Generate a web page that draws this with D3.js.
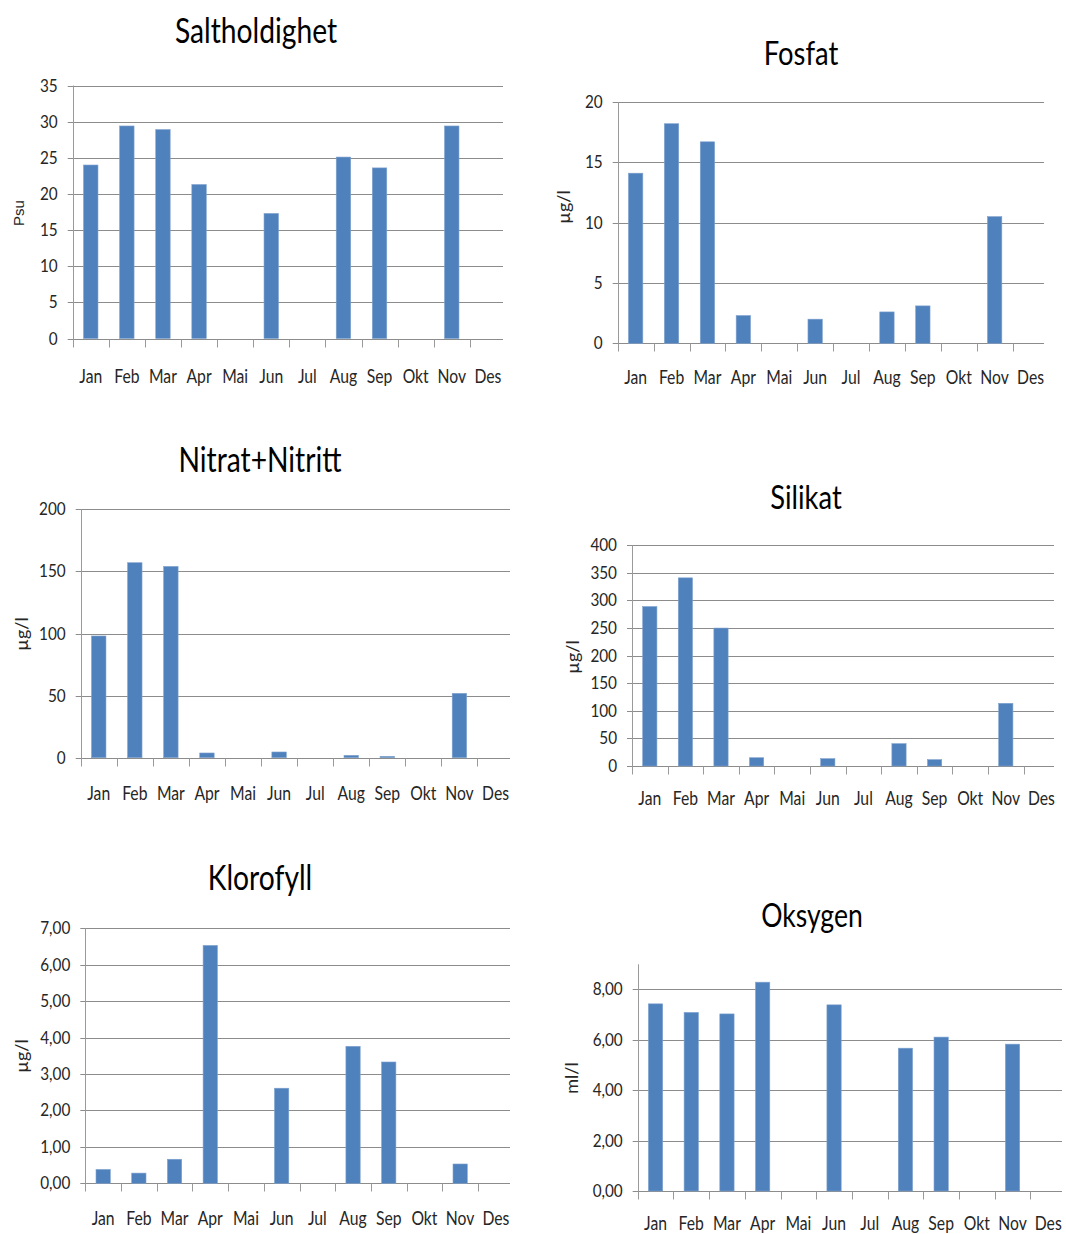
<!DOCTYPE html>
<html>
<head>
<meta charset="utf-8">
<script src="https://cdn.jsdelivr.net/npm/d3@7"></script>
<style>
  html, body { margin: 0; padding: 0; background: #ffffff; }
  svg { display: block; }
</style>
</head>
<body>
<svg id="chart" width="1066" height="1234"></svg>
<script>
// ---------------- DATA ----------------
const months = ["Jan", "Feb", "Mar", "Apr", "Mai", "Jun", "Jul", "Aug", "Sep", "Okt", "Nov", "Des"];

const saltholdighet = [24.0, 29.4, 28.9, 21.3, null, 17.3, null, 25.1, 23.6, null, 29.4, null];
const fosfat        = [14.1, 18.2, 16.7, 2.3, null, 2.0, null, 2.6, 3.1, null, 10.5, null];
const nitratNitritt = [98, 157, 154, 3.8, null, 4.6, null, 1.9, 1.1, null, 51.8, null];
const silikat       = [289, 341, 250, 15, null, 13.3, null, 40.5, 11.5, null, 113.6, null];
const klorofyll     = [0.38, 0.28, 0.66, 6.53, null, 2.61, null, 3.76, 3.33, null, 0.53, null];
const oksygen       = [7.43, 7.09, 7.03, 8.29, null, 7.39, null, 5.67, 6.11, null, 5.83, null];

const saltTicks    = [0, 5, 10, 15, 20, 25, 30, 35];
const fosfatTicks  = [0, 5, 10, 15, 20];
const nitratTicks  = [0, 50, 100, 150, 200];
const silikatTicks = [0, 50, 100, 150, 200, 250, 300, 350, 400];
const klorTicks    = [0, 1, 2, 3, 4, 5, 6, 7];
const oksTicks     = [0, 2, 4, 6, 8];

const titles = ["Saltholdighet", "Fosfat", "Nitrat+Nitritt", "Silikat", "Klorofyll", "Oksygen"];
const units  = ["Psu", "µg/l", "µg/l", "µg/l", "µg/l", "ml/l"];

// ---------------- LAYOUT ----------------
const fmtInt = d3.format("d");
const fmtComma = d => d3.format(".2f")(d).replace(".", ",");

const charts = [
  { title: titles[0], unit: units[0], values: saltholdighet, ticks: saltTicks, yMax: 35, fmt: fmtInt,
    x0: 72.7, bw: 36.1, gridEnd: 503, yTop: 85.5, yZero: 338.5,
    tX: 256, tY: 43, tSize: 34, uX: 19, uY: 213, unitFont: "Liberation Sans", unitSize: 15, labDy: 44 },
  { title: titles[1], unit: units[1], values: fosfat, ticks: fosfatTicks, yMax: 20, fmt: fmtInt,
    x0: 617.7, bw: 35.9, gridEnd: 1044, yTop: 102, yZero: 343.3,
    tX: 801, tY: 65, tSize: 33, uX: 564, uY: 207, labDy: 41 },
  { title: titles[2], unit: units[2], values: nitratNitritt, ticks: nitratTicks, yMax: 200, fmt: fmtInt,
    x0: 80.7, bw: 36.07, gridEnd: 510, yTop: 509.3, yZero: 757.7,
    tX: 260, tY: 472, tSize: 34, uX: 22, uY: 634, labDy: 42 },
  { title: titles[3], unit: units[3], values: silikat, ticks: silikatTicks, yMax: 400, fmt: fmtInt,
    x0: 632, bw: 35.6, gridEnd: 1054, yTop: 545.3, yZero: 766,
    tX: 806, tY: 509, tSize: 33, uX: 572.5, uY: 657, labDy: 39 },
  { title: titles[4], unit: units[4], values: klorofyll, ticks: klorTicks, yMax: 7, fmt: fmtComma,
    x0: 85.3, bw: 35.7, gridEnd: 510, yTop: 928.3, yZero: 1183.3,
    tX: 260, tY: 890, tSize: 34, uX: 22, uY: 1056, labDy: 42 },
  { title: titles[5], unit: units[5], values: oksygen, ticks: oksTicks, yMax: 9, fmt: fmtComma,
    x0: 637.7, bw: 35.7, gridEnd: 1062, yTop: 964.3, yZero: 1191,
    tX: 812, tY: 927, tSize: 32, uX: 572, uY: 1078, labDy: 39 }
];

const BAR = "#4F81BD";
const GRID = "#8C8C8C";
const AXIS = "#9A9A9A";
const TEXT = "#262626";
const FONT = "Lato, 'Open Sans', sans-serif";

const svg = d3.select("#chart");

function addText(g, x, y, s, o) {
  return g.append("text")
    .attr("transform", `translate(${x},${y}) scale(${o.sx || 1},1)`)
    .attr("text-anchor", o.anchor || "middle")
    .attr("font-family", o.family || FONT)
    .attr("font-size", o.size)
    .attr("fill", o.fill || TEXT)
    .text(s);
}

charts.forEach(c => {
  const g = svg.append("g");
  const x = d3.scaleBand().domain(months).range([c.x0, c.x0 + 12 * c.bw]).paddingInner(0).paddingOuter(0);
  const y = d3.scaleLinear().domain([0, c.yMax]).range([c.yZero, c.yTop]);

  // gridlines + y ticks
  g.selectAll("line.grid").data(c.ticks).enter().append("line")
    .attr("x1", c.x0 - 5).attr("x2", c.gridEnd)
    .attr("y1", d => Math.round(y(d)) + 0.5).attr("y2", d => Math.round(y(d)) + 0.5)
    .attr("stroke", GRID).attr("stroke-width", 1);

  // y axis line
  g.append("line")
    .attr("x1", Math.round(c.x0) + 0.5).attr("x2", Math.round(c.x0) + 0.5)
    .attr("y1", y(c.yMax)).attr("y2", Math.round(c.yZero) + 0.5)
    .attr("stroke", AXIS).attr("stroke-width", 1);

  // category tick marks (band boundaries)
  g.selectAll("line.ct").data(months).enter().append("line")
    .attr("x1", d => Math.round(x(d)) + 0.5).attr("x2", d => Math.round(x(d)) + 0.5)
    .attr("y1", Math.round(c.yZero) + 0.5).attr("y2", Math.round(c.yZero) + 8.5)
    .attr("stroke", AXIS).attr("stroke-width", 1);

  // bars
  const bw = x.bandwidth() * 0.4;
  g.selectAll("rect").data(c.values.map((v, i) => ({ m: months[i], v })).filter(d => d.v != null))
    .enter().append("rect")
    .attr("x", d => x(d.m) + (x.bandwidth() - bw) / 2)
    .attr("width", bw)
    .attr("y", d => y(d.v))
    .attr("height", d => c.yZero - y(d.v))
    .attr("fill", BAR)
    .attr("stroke", "#7FA2CE").attr("stroke-width", 0.6);

  // y tick labels
  c.ticks.forEach(t => {
    addText(g, c.x0 - 15, y(t) + 6, c.fmt(t), { size: 17, anchor: "end", sx: 0.9 });
  });

  // category labels
  months.forEach(m => {
    addText(g, x(m) + x.bandwidth() / 2, c.yZero + c.labDy, m, { size: 18.5, anchor: "middle", sx: 0.85 });
  });

  // title
  addText(g, c.tX, c.tY, c.title, { size: c.tSize, anchor: "middle", sx: 0.83, fill: "#000" });

  // unit label
  g.append("text")
    .attr("transform", `translate(${c.uX},${c.uY}) rotate(-90)`)
    .attr("text-anchor", "middle")
    .attr("dy", "0.35em")
    .attr("font-family", c.unitFont || FONT)
    .attr("font-size", c.unitSize || 18)
    .attr("fill", TEXT)
    .text(c.unit);
});
</script>
</body>
</html>
